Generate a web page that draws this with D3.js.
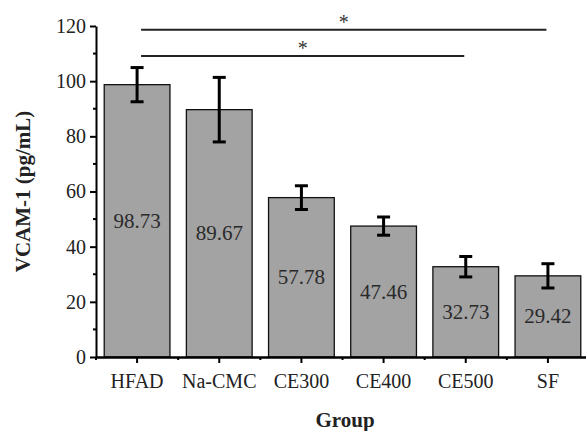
<!DOCTYPE html>
<html>
<head>
<meta charset="utf-8">
<script src="https://cdn.jsdelivr.net/npm/d3@7"></script>
<style>
  body { margin: 0; background: #fff; }
  svg text { font-family: "Liberation Serif", "Times New Roman", serif; }
</style>
</head>
<body>
<svg id="viz"></svg>
<script>
const groups = ["HFAD", "Na-CMC", "CE300", "CE400", "CE500", "SF"];
const means = [98.73, 89.67, 57.78, 47.46, 32.73, 29.42];
const errors = [6.2, 11.7, 4.3, 3.3, 3.7, 4.4];
const yTicks = [0, 20, 40, 60, 80, 100, 120];
const yMinorTicks = [10, 30, 50, 70, 90, 110];
const sigPairs = [["HFAD", "SF", 118.6], ["HFAD", "CE500", 109.1]];

const serif = "Liberation Serif, Times New Roman, serif";

const app = {
    init() {
        const width = 586;
        const height = 431;
        const left = 96, right = 589, top = 26, bottom = 357;

        const svg = d3.select("#viz").attr("width", width).attr("height", height);

        const x = d3.scaleBand().domain(groups).range([left, right]).paddingInner(0.2).paddingOuter(0.1);
        const y = d3.scaleLinear().domain([0, 120]).range([bottom, top]);
        const cx = g => x(g) + x.bandwidth() / 2;

        // bars
        svg.selectAll("rect.bar").data(groups).enter().append("rect")
            .attr("class", "bar")
            .attr("x", d => x(d)).attr("width", x.bandwidth())
            .attr("y", (d, i) => y(means[i])).attr("height", (d, i) => y(0) - y(means[i]))
            .attr("fill", "#a3a3a3").attr("stroke", "#111").attr("stroke-width", 1.3);

        // error bars
        const eb = svg.append("g").attr("stroke", "#000").attr("stroke-width", 3);
        groups.forEach((g, i) => {
            const c = cx(g);
            eb.append("line").attr("x1", c).attr("x2", c).attr("y1", y(means[i] + errors[i])).attr("y2", y(means[i] - errors[i]));
            eb.append("line").attr("x1", c - 6.5).attr("x2", c + 6.5).attr("y1", y(means[i] + errors[i])).attr("y2", y(means[i] + errors[i]));
            eb.append("line").attr("x1", c - 6.5).attr("x2", c + 6.5).attr("y1", y(means[i] - errors[i])).attr("y2", y(means[i] - errors[i]));
        });

        // value labels
        svg.selectAll("text.val").data(groups).enter().append("text")
            .attr("class", "val")
            .attr("x", d => cx(d))
            .attr("y", (d, i) => (y(means[i]) + y(0)) / 2 + 7)
            .attr("text-anchor", "middle").attr("fill", "#2a2a2a")
            .style("font-family", serif).style("font-size", "21px")
            .text((d, i) => means[i].toFixed(2));

        // y axis
        const ya = svg.append("g").attr("transform", `translate(${left},0)`)
            .call(d3.axisLeft(y).tickValues(yTicks).tickSize(6).tickSizeOuter(0).tickPadding(4))
            .attr("font-family", serif);
        ya.select(".domain").attr("stroke", "#000").attr("stroke-width", 2);
        ya.selectAll(".tick line").attr("stroke-width", 2);
        ya.selectAll(".tick text").style("font-family", serif).style("font-size", "20px").attr("fill", "#222");
        svg.append("g").selectAll("line").data(yMinorTicks).enter().append("line")
            .attr("x1", left - 3).attr("x2", left).attr("y1", d => y(d)).attr("y2", d => y(d))
            .attr("stroke", "#000").attr("stroke-width", 2);

        // x axis
        const xa = svg.append("g").attr("transform", `translate(0,${bottom})`)
            .call(d3.axisBottom(x).tickSize(6).tickSizeOuter(0).tickPadding(11))
            .attr("font-family", serif);
        xa.select(".domain").attr("stroke", "#000").attr("stroke-width", 2.5);
        xa.selectAll(".tick line").attr("stroke-width", 2);
        xa.selectAll(".tick text").style("font-family", serif).style("font-size", "20px").attr("fill", "#222");
        const bounds = d3.range(groups.length).map(i => left + i * x.step());
        svg.append("g").selectAll("line").data(bounds).enter().append("line")
            .attr("x1", d => d).attr("x2", d => d).attr("y1", bottom).attr("y2", bottom + 3)
            .attr("stroke", "#000").attr("stroke-width", 2);

        // axis titles
        svg.append("text").attr("transform", "rotate(-90)").attr("x", -(top + bottom) / 2).attr("y", 30)
            .attr("text-anchor", "middle").style("font-family", serif).style("font-size", "21px").style("font-weight", "bold").attr("fill", "#222")
            .text("VCAM-1 (pg/mL)");
        svg.append("text").attr("x", 345).attr("y", 427)
            .attr("text-anchor", "middle").style("font-family", serif).style("font-size", "21px").style("font-weight", "bold").attr("fill", "#222")
            .text("Group");

        // significance lines
        sigPairs.forEach(([a, b, v]) => {
            const x1 = cx(a) + 4, x2 = cx(b) - 1.5;
            svg.append("line").attr("x1", x1).attr("x2", x2).attr("y1", y(v)).attr("y2", y(v))
                .attr("stroke", "#222").attr("stroke-width", 2);
            svg.append("text").attr("x", (x1 + x2) / 2).attr("y", y(v) - 1)
                .attr("text-anchor", "middle").style("font-family", serif).style("font-size", "20px").attr("fill", "#333").text("*");
        });
    }
}

window.addEventListener("DOMContentLoaded", () => app.init())
</script>
</body>
</html>
